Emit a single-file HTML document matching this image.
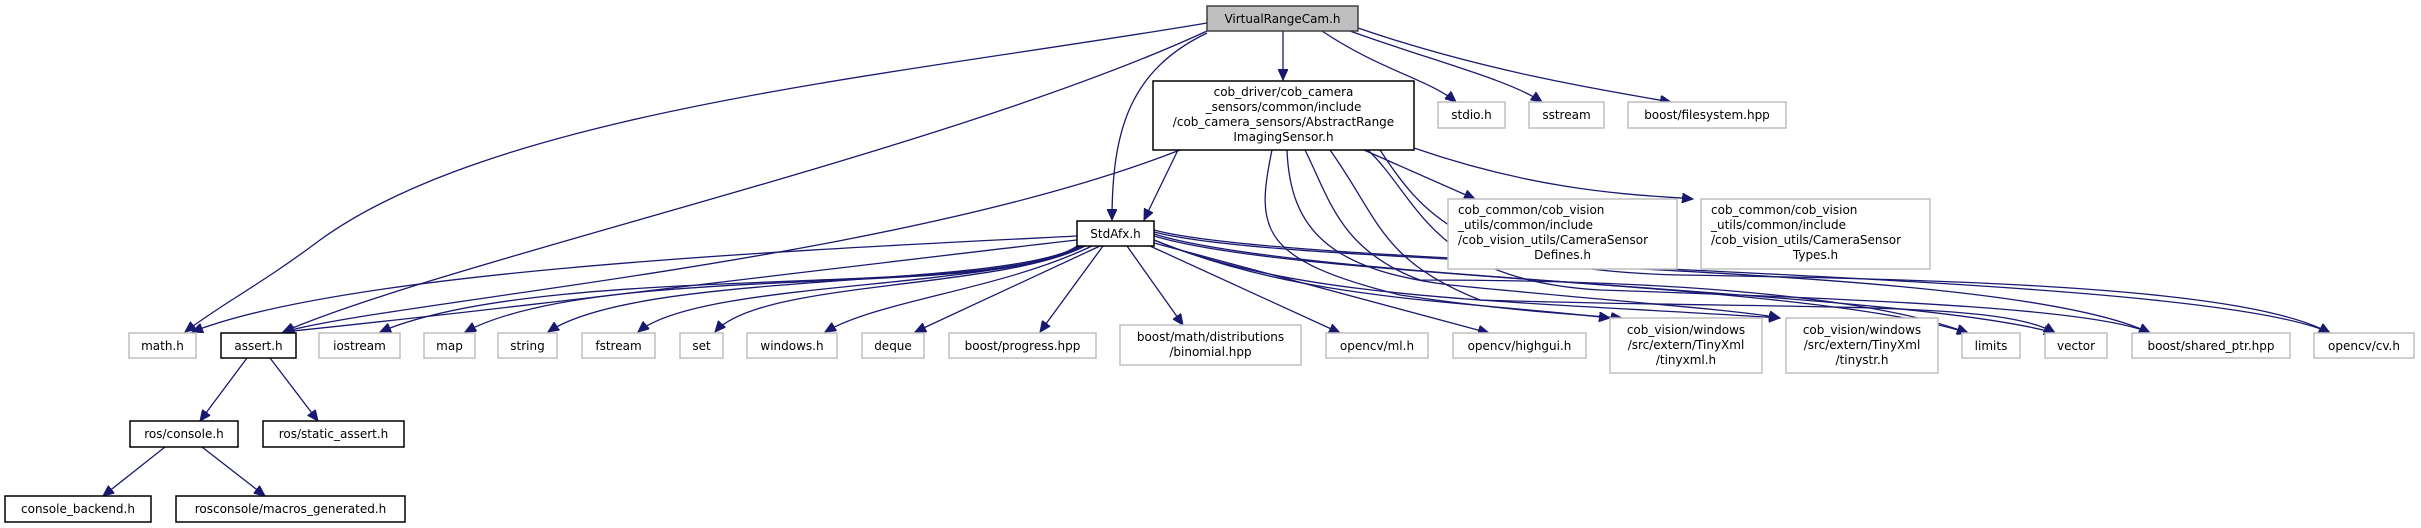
<!DOCTYPE html>
<html><head><meta charset="utf-8"><style>
html,body{margin:0;padding:0;background:#fff;}
svg{display:block;}
text{font-family:"DejaVu Sans","Liberation Sans",sans-serif;font-size:12px;fill:#000;}
.g{fill:#fff;stroke:#bfbfbf;stroke-width:1.5}
.b{fill:#fff;stroke:#000;stroke-width:1.5}
.e{fill:none;stroke:#191970;stroke-width:1.3;marker-end:url(#a)}
</style></head><body>
<svg width="2421" height="528" viewBox="0 0 2421 528" xmlns="http://www.w3.org/2000/svg">
<defs><marker id="a" markerUnits="userSpaceOnUse" markerWidth="12" markerHeight="10" refX="11" refY="5" orient="auto"><path d="M0,0 L11,5 L0,10 z" fill="#191970" stroke="#191970"/></marker></defs>

<!-- edges from VirtualRangeCam -->
<path class="e" d="M1207,23 C900,75 500,110 320,240 C260,285 220,305 185,332"/>
<path class="e" d="M1207,31 C950,150 450,260 283,332"/>
<path class="e" d="M1207,33 C1130,70 1112,130 1112,220"/>
<path class="e" d="M1283,31 L1283,80"/>
<path class="e" d="M1322,31 C1380,70 1430,80 1456,102"/>
<path class="e" d="M1350,31 C1430,60 1510,80 1542,102"/>
<path class="e" d="M1358,28 C1480,70 1600,90 1671,102"/>

<!-- edges from cob_driver -->
<path class="e" d="M1178,150 L1144,220"/>
<path class="e" d="M1180,150 C900,260 400,300 283,332"/>
<path class="e" d="M1364,150 L1475,199"/>
<path class="e" d="M1414,148 C1550,195 1650,195 1693,199"/>
<path class="e" d="M1272,150 C1255,230 1260,260 1400,295 C1500,310 1580,315 1622,318"/>
<path class="e" d="M1287,150 C1290,230 1330,270 1450,285 C1600,300 1740,310 1780,318"/>
<path class="e" d="M1305,150 C1330,200 1340,250 1420,280 C1700,280 1880,300 1968,333"/>
<path class="e" d="M1330,150 C1380,220 1380,260 1480,300 C1800,310 2000,300 2055,333"/>
<path class="e" d="M1368,150 C1420,200 1430,280 1600,290 C1900,300 2100,310 2150,333"/>
<path class="e" d="M1380,150 C1420,210 1460,270 1680,275 C2000,280 2250,290 2330,333"/>

<!-- edges from StdAfx -->
<path class="e" d="M1077,236 C800,250 350,270 192,332"/>
<path class="e" d="M1077,240 C900,260 500,310 283,332"/>
<path class="e" d="M1077,246 C1000,300 550,260 380,332"/>
<path class="e" d="M1080,246 C1000,300 600,260 465,332"/>
<path class="e" d="M1080,246 C1000,290 640,270 548,332"/>
<path class="e" d="M1082,246 C1000,290 700,280 638,332"/>
<path class="e" d="M1085,246 C1000,290 760,280 715,332"/>
<path class="e" d="M1092,246 C1000,290 880,300 825,332"/>
<path class="e" d="M1100,246 L915,332"/>
<path class="e" d="M1103,246 L1040,332"/>
<path class="e" d="M1127,246 L1183,325"/>
<path class="e" d="M1150,246 L1340,333"/>
<path class="e" d="M1154,243 L1489,333"/>
<path class="e" d="M1154,240 C1300,300 1450,300 1610,318"/>
<path class="e" d="M1154,240 C1300,300 1500,300 1780,318"/>
<path class="e" d="M1154,236 C1300,280 1800,280 1968,333"/>
<path class="e" d="M1154,234 C1300,280 1900,290 2055,333"/>
<path class="e" d="M1154,232 C1300,270 2000,260 2150,333"/>
<path class="e" d="M1154,230 C1300,270 2200,270 2330,333"/>

<!-- assert / ros edges -->
<path class="e" d="M247,358 L200,421"/>
<path class="e" d="M270,358 L318,421"/>
<path class="e" d="M165,447 L103,496"/>
<path class="e" d="M202,447 L265,496"/>

<!-- nodes -->
<rect x="1207" y="6" width="151" height="25" fill="#bfbfbf" stroke="#404040" stroke-width="1.5"/>
<text x="1282.5" y="23" text-anchor="middle">VirtualRangeCam.h</text>

<rect class="b" x="1153" y="81" width="261" height="69"/>
<text x="1283.5" y="96" text-anchor="middle">cob_driver/cob_camera</text>
<text x="1283.5" y="111" text-anchor="middle">_sensors/common/include</text>
<text x="1283.5" y="126" text-anchor="middle">/cob_camera_sensors/AbstractRange</text>
<text x="1283.5" y="141" text-anchor="middle">ImagingSensor.h</text>

<rect class="g" x="1438" y="102" width="67" height="26"/><text x="1471.5" y="119" text-anchor="middle">stdio.h</text>
<rect class="g" x="1529" y="102" width="75" height="26"/><text x="1566.5" y="119" text-anchor="middle">sstream</text>
<rect class="g" x="1628" y="102" width="158" height="26"/><text x="1707" y="119" text-anchor="middle">boost/filesystem.hpp</text>

<rect class="g" x="1448" y="199" width="229" height="70"/>
<text x="1458" y="214">cob_common/cob_vision</text>
<text x="1458" y="229">_utils/common/include</text>
<text x="1458" y="244">/cob_vision_utils/CameraSensor</text>
<text x="1562.5" y="259" text-anchor="middle">Defines.h</text>
<rect class="g" x="1701" y="199" width="229" height="70"/>
<text x="1711" y="214">cob_common/cob_vision</text>
<text x="1711" y="229">_utils/common/include</text>
<text x="1711" y="244">/cob_vision_utils/CameraSensor</text>
<text x="1815.5" y="259" text-anchor="middle">Types.h</text>

<rect class="b" x="1077" y="221" width="77" height="25"/><text x="1115.5" y="238" text-anchor="middle">StdAfx.h</text>

<rect class="g" x="129" y="333" width="67" height="25"/><text x="162.5" y="350" text-anchor="middle">math.h</text>
<rect class="b" x="221" y="333" width="75" height="25"/><text x="258.5" y="350" text-anchor="middle">assert.h</text>
<rect class="g" x="319" y="333" width="81" height="25"/><text x="359.5" y="350" text-anchor="middle">iostream</text>
<rect class="g" x="424" y="333" width="51" height="25"/><text x="449.5" y="350" text-anchor="middle">map</text>
<rect class="g" x="498" y="333" width="59" height="25"/><text x="527.5" y="350" text-anchor="middle">string</text>
<rect class="g" x="582" y="333" width="73" height="25"/><text x="618.5" y="350" text-anchor="middle">fstream</text>
<rect class="g" x="680" y="333" width="43" height="25"/><text x="701.5" y="350" text-anchor="middle">set</text>
<rect class="g" x="747" y="333" width="90" height="25"/><text x="792" y="350" text-anchor="middle">windows.h</text>
<rect class="g" x="862" y="333" width="62" height="25"/><text x="893" y="350" text-anchor="middle">deque</text>
<rect class="g" x="949" y="333" width="147" height="25"/><text x="1022.5" y="350" text-anchor="middle">boost/progress.hpp</text>
<rect class="g" x="1120" y="325" width="181" height="40"/>
<text x="1210.5" y="341" text-anchor="middle">boost/math/distributions</text>
<text x="1210.5" y="356" text-anchor="middle">/binomial.hpp</text>
<rect class="g" x="1326" y="333" width="102" height="25"/><text x="1377" y="350" text-anchor="middle">opencv/ml.h</text>
<rect class="g" x="1453" y="333" width="133" height="25"/><text x="1519.5" y="350" text-anchor="middle">opencv/highgui.h</text>
<rect class="g" x="1610" y="318" width="152" height="55"/>
<text x="1686" y="334" text-anchor="middle">cob_vision/windows</text>
<text x="1686" y="349" text-anchor="middle">/src/extern/TinyXml</text>
<text x="1686" y="364" text-anchor="middle">/tinyxml.h</text>
<rect class="g" x="1786" y="318" width="152" height="55"/>
<text x="1862" y="334" text-anchor="middle">cob_vision/windows</text>
<text x="1862" y="349" text-anchor="middle">/src/extern/TinyXml</text>
<text x="1862" y="364" text-anchor="middle">/tinystr.h</text>
<rect class="g" x="1962" y="333" width="58" height="25"/><text x="1991" y="350" text-anchor="middle">limits</text>
<rect class="g" x="2045" y="333" width="62" height="25"/><text x="2076" y="350" text-anchor="middle">vector</text>
<rect class="g" x="2132" y="333" width="158" height="25"/><text x="2211" y="350" text-anchor="middle">boost/shared_ptr.hpp</text>
<rect class="g" x="2314" y="333" width="100" height="25"/><text x="2364" y="350" text-anchor="middle">opencv/cv.h</text>

<rect class="b" x="130" y="421" width="108" height="26"/><text x="184" y="438" text-anchor="middle">ros/console.h</text>
<rect class="b" x="263" y="421" width="141" height="26"/><text x="333.5" y="438" text-anchor="middle">ros/static_assert.h</text>
<rect class="b" x="5" y="496" width="146" height="26"/><text x="78" y="513" text-anchor="middle">console_backend.h</text>
<rect class="b" x="176" y="496" width="229" height="26"/><text x="290.5" y="513" text-anchor="middle">rosconsole/macros_generated.h</text>
</svg>
</body></html>
